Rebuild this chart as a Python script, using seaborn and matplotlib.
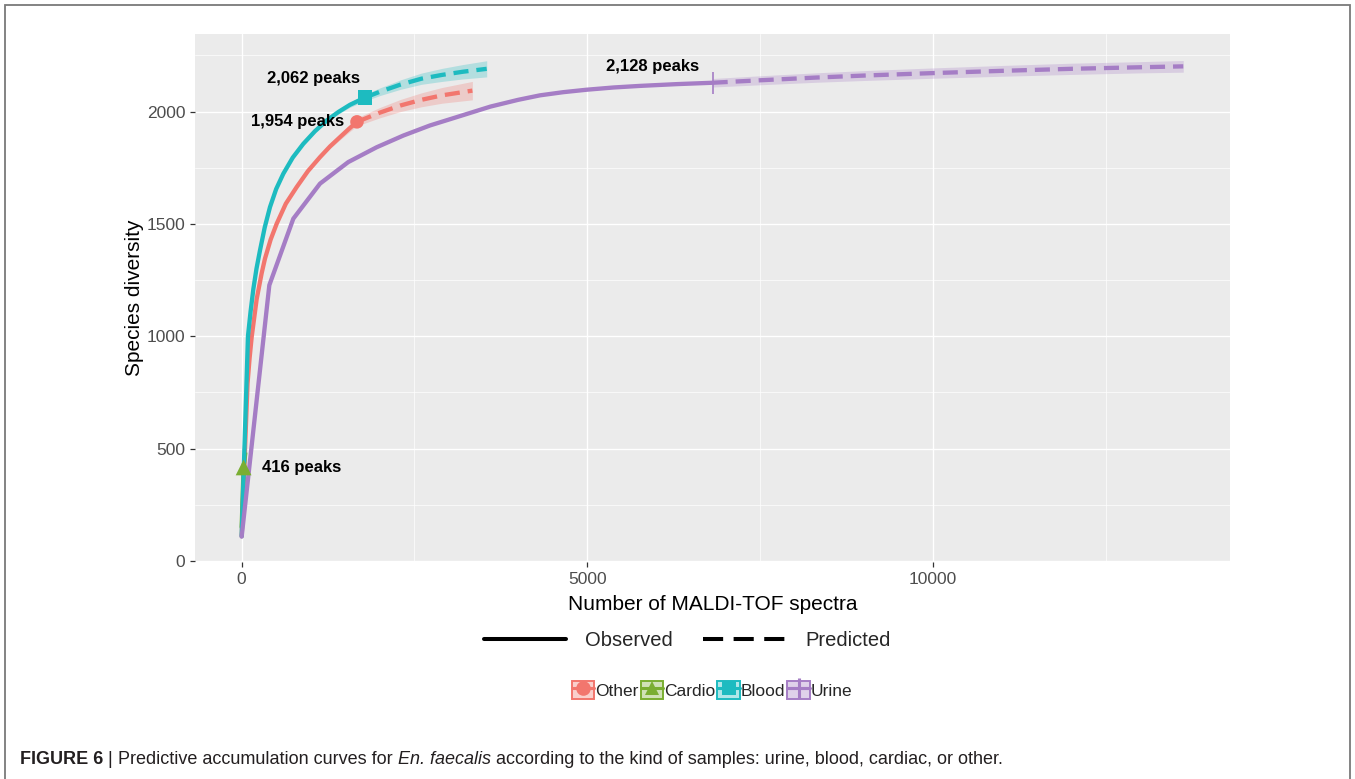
import numpy as np
import pandas as pd
import matplotlib
matplotlib.use("Agg")
import matplotlib.pyplot as plt
import seaborn as sns
from matplotlib.lines import Line2D
from matplotlib.patches import Patch, Rectangle
from matplotlib.legend_handler import HandlerTuple

# ---------------------------------------------------------------- data
sites = ["Other", "Cardio", "Blood", "Urine"]
methods = ["Observed", "Predicted"]

# interpolated (observed) accumulation curves: spectra vs. peaks
other_obs_x = [1, 86, 115, 146, 218, 290, 338, 420, 508, 640, 797, 960,
               1134, 1280, 1423, 1550, 1669]
other_obs_y = [110, 790, 900, 997, 1165, 1280, 1345, 1430, 1501, 1590, 1664,
               1735, 1797, 1845, 1886, 1922, 1954]
other_obs_se = [0, 0, 0, 0, 0, 0, 0, 0, 0, 0, 0, 2, 6, 9, 12, 15, 18]

cardio_obs_x = [1, 29]
cardio_obs_y = [150, 416]
cardio_obs_se = [0, 0]

blood_obs_x = [1, 92, 130, 170, 215, 266, 335, 411, 500, 603, 740, 892,
               1060, 1231, 1400, 1568, 1785]
blood_obs_y = [110, 1000, 1110, 1210, 1300, 1382, 1485, 1575, 1655, 1723,
               1795, 1856, 1912, 1960, 1998, 2030, 2062]
blood_obs_se = [0, 0, 0, 0, 0, 0, 0, 0, 0, 0, 0, 0, 3, 6, 9, 11, 15]

urine_obs_x = [1, 401, 748, 1134, 1543, 1954, 2339, 2725, 3111, 3600,
               4000, 4316, 4650, 4991, 5380, 5762, 6300, 6813]
urine_obs_y = [108, 1227, 1523, 1679, 1775, 1841, 1893, 1938, 1975, 2022,
               2052, 2072, 2086, 2097, 2107, 2114, 2122, 2128]
urine_obs_se = [0] * 18

# extrapolated (predicted) curves, starting at the reference sample size
other_pred_x = [1669, 2000, 2300, 2600, 2900, 3338]
other_pred_y = [1954, 1995, 2027, 2052, 2072, 2093]
other_pred_se = [18, 23, 27, 31, 35, 41]

cardio_pred_x = [29, 58]
cardio_pred_y = [416, 493]
cardio_pred_se = [0, 0]

blood_pred_x = [1785, 2000, 2300, 2600, 2900, 3200, 3545]
blood_pred_y = [2062, 2088, 2120, 2146, 2163, 2177, 2190]
blood_pred_se = [15, 17, 21, 25, 29, 32, 36]

urine_pred_x = [6813, 7500, 8300, 9000, 10000, 11000, 12000, 13000, 13620]
urine_pred_y = [2128, 2139, 2151, 2160, 2171, 2181, 2190, 2197, 2201]
urine_pred_se = [19, 20, 21, 22, 23, 24, 25, 25, 26]

curves = {
    ("Other", "Observed"): (other_obs_x, other_obs_y, other_obs_se),
    ("Other", "Predicted"): (other_pred_x, other_pred_y, other_pred_se),
    ("Cardio", "Observed"): (cardio_obs_x, cardio_obs_y, cardio_obs_se),
    ("Cardio", "Predicted"): (cardio_pred_x, cardio_pred_y, cardio_pred_se),
    ("Blood", "Observed"): (blood_obs_x, blood_obs_y, blood_obs_se),
    ("Blood", "Predicted"): (blood_pred_x, blood_pred_y, blood_pred_se),
    ("Urine", "Observed"): (urine_obs_x, urine_obs_y, urine_obs_se),
    ("Urine", "Predicted"): (urine_pred_x, urine_pred_y, urine_pred_se),
}

frames = []
for (site, method), (xs, ys, se) in curves.items():
    frames.append(pd.DataFrame({"spectra": xs, "diversity": ys, "se": se,
                                "site": site, "method": method}))
df = pd.concat(frames, ignore_index=True)

# ---------------------------------------------------------------- style
palette = {"Other": "#F2766E", "Cardio": "#7AAE32",
           "Blood": "#1DBBC0", "Urine": "#A57DC5"}
ref_markers = {"Other": "o", "Cardio": "^", "Blood": "s", "Urine": "+"}
ref_sizes = {"Other": 95, "Cardio": 130, "Blood": 105, "Urine": 230}
label_offsets = {  # (dx, dy) in pixels, horizontal alignment
    "Other": (-13, 0, "right"),
    "Cardio": (18, 0, "left"),
    "Blood": (-5, 19, "right"),
    "Urine": (-14, 16, "right"),
}

sns.set_theme(style="darkgrid",
              rc={"axes.facecolor": "#EBEBEB", "grid.color": "white",
                  "figure.facecolor": "white"})
plt.rcParams["font.family"] = ["Liberation Sans", "DejaVu Sans"]

W, H = 1355, 779
fig = plt.figure(figsize=(W / 100, H / 100), dpi=100)


def fx(px):
    return px / W


def fy(py):
    return 1 - py / H


ax = fig.add_axes([fx(195), fy(562), (1230 - 195) / W, (562 - 34) / H])

# confidence ribbons
for (site, method), (xs, ys, se) in curves.items():
    xs_a, ys_a, se_a = np.asarray(xs), np.asarray(ys), np.asarray(se)
    if se_a.max() > 0:
        ax.fill_between(xs_a, ys_a - se_a, ys_a + se_a, color=palette[site],
                        alpha=0.27, lw=0, zorder=1)

# curves
sns.lineplot(data=df, x="spectra", y="diversity", hue="site", style="method",
             hue_order=sites, style_order=methods, palette=palette,
             dashes={"Observed": "", "Predicted": (3.5, 1.85)},
             estimator=None, sort=False, lw=3.1, legend=False, ax=ax, zorder=3)

# reference sample points + labels
for site in sites:
    xs, ys, _ = curves[(site, "Observed")]
    rx, ry = xs[-1], ys[-1]
    m = ref_markers[site]
    if m == "+":
        sns.scatterplot(x=[rx], y=[ry], marker=m, s=ref_sizes[site],
                        color=palette[site], linewidth=1.2, ax=ax, zorder=4)
    else:
        sns.scatterplot(x=[rx], y=[ry], marker=m, s=ref_sizes[site],
                        color=palette[site], edgecolor="none", ax=ax, zorder=4)
    dx, dy, ha = label_offsets[site]
    ax.annotate(f"{ry:,} peaks", xy=(rx, ry), xytext=(dx, dy),
                textcoords="offset pixels", ha=ha, va="center",
                fontsize=12, fontweight="bold", color="black", zorder=5)

# axes
ax.set_xlim(-674, 14296)
ax.set_ylim(-5, 2345)
ax.set_xticks([0, 5000, 10000])
ax.set_yticks([0, 500, 1000, 1500, 2000])
ax.set_xticks([2500, 7500, 12500], minor=True)
ax.set_yticks([250, 750, 1250, 1750, 2250], minor=True)
ax.grid(which="major", color="white", lw=1.0)
ax.grid(which="minor", color="white", lw=0.5)
ax.tick_params(which="major", length=3.5, width=0.9, color="#333333",
               labelsize=12.5, labelcolor="#4D4D4D", pad=3.5,
               bottom=True, left=True)
ax.tick_params(which="minor", length=0)
for s in ax.spines.values():
    s.set_visible(False)

ax.set_xlabel("Number of MALDI-TOF spectra", fontsize=15, color="black")
ax.set_ylabel("Species diversity", fontsize=15, color="black")
ax.xaxis.set_label_coords(0.5, (562 - 604) / 528)
ax.xaxis.label.set_verticalalignment("center")
ax.yaxis.set_label_coords((134 - 195) / 1035, 0.5)
ax.yaxis.label.set_verticalalignment("center")

# legend: line type
lt_handles = [Line2D([], [], color="black", lw=2.9),
              Line2D([], [], color="black", lw=2.9, dashes=(5, 2.6))]
leg1 = fig.legend(lt_handles, methods, loc="center",
                  bbox_to_anchor=(fx(687), fy(641)), ncol=2, frameon=False,
                  fontsize=14.5, handlelength=4.1, handletextpad=0.95,
                  columnspacing=1.5, borderpad=0, borderaxespad=0)

# legend: sample kind
site_handles = []
for site in sites:
    c = palette[site]
    box = Patch(facecolor=c, alpha=0.35, edgecolor="none")
    edge = Patch(facecolor="none", edgecolor=c, lw=1.4)
    if ref_markers[site] == "+":
        ln = Line2D([], [], color=c, lw=2.2, marker="+", markersize=15,
                    markeredgewidth=2.2)
    else:
        ln = Line2D([], [], color=c, lw=2.2, marker=ref_markers[site],
                    markersize=10.5, markeredgewidth=0)
    site_handles.append((box, edge, ln))
leg2 = fig.legend(site_handles, sites, loc="center",
                  bbox_to_anchor=(fx(712), fy(690)), ncol=4, frameon=False,
                  fontsize=12.5, handlelength=1.3, handleheight=1.3,
                  handletextpad=0.05, columnspacing=0.12, borderpad=0,
                  borderaxespad=0,
                  handler_map={tuple: HandlerTuple(ndivide=1, pad=0)})

# outer frame
fig.add_artist(Rectangle((fx(5), fy(820)), fx(1350) - fx(5), fy(5) - fy(820),
                         transform=fig.transFigure, fill=False,
                         edgecolor="#7A7A7A", lw=1.3, clip_on=False))

# caption
renderer = fig.canvas.get_renderer()
cap_props = dict(fontsize=13, color="#231F20", va="center", ha="left")
pieces = [("FIGURE 6", "bold", "normal"),
          (" | ", "normal", "normal"),
          ("Predictive accumulation curves for ", "normal", "normal"),
          ("En. faecalis", "normal", "italic"),
          (" according to the kind of samples: urine, blood, cardiac, or other.",
           "normal", "normal")]


def advance(s, weight, style):
    t1 = fig.text(0, 0, s + "|", fontweight=weight, fontstyle=style, **cap_props)
    t2 = fig.text(0, 0, "|", fontweight=weight, fontstyle=style, **cap_props)
    w = t1.get_window_extent(renderer).width - t2.get_window_extent(renderer).width
    t1.remove()
    t2.remove()
    return w


cx = 20
for s, wgt, sty in pieces:
    fig.text(fx(cx), fy(759), s, fontweight=wgt, fontstyle=sty, **cap_props)
    cx += advance(s, wgt, sty)

fig.savefig("out.png", dpi=100)
